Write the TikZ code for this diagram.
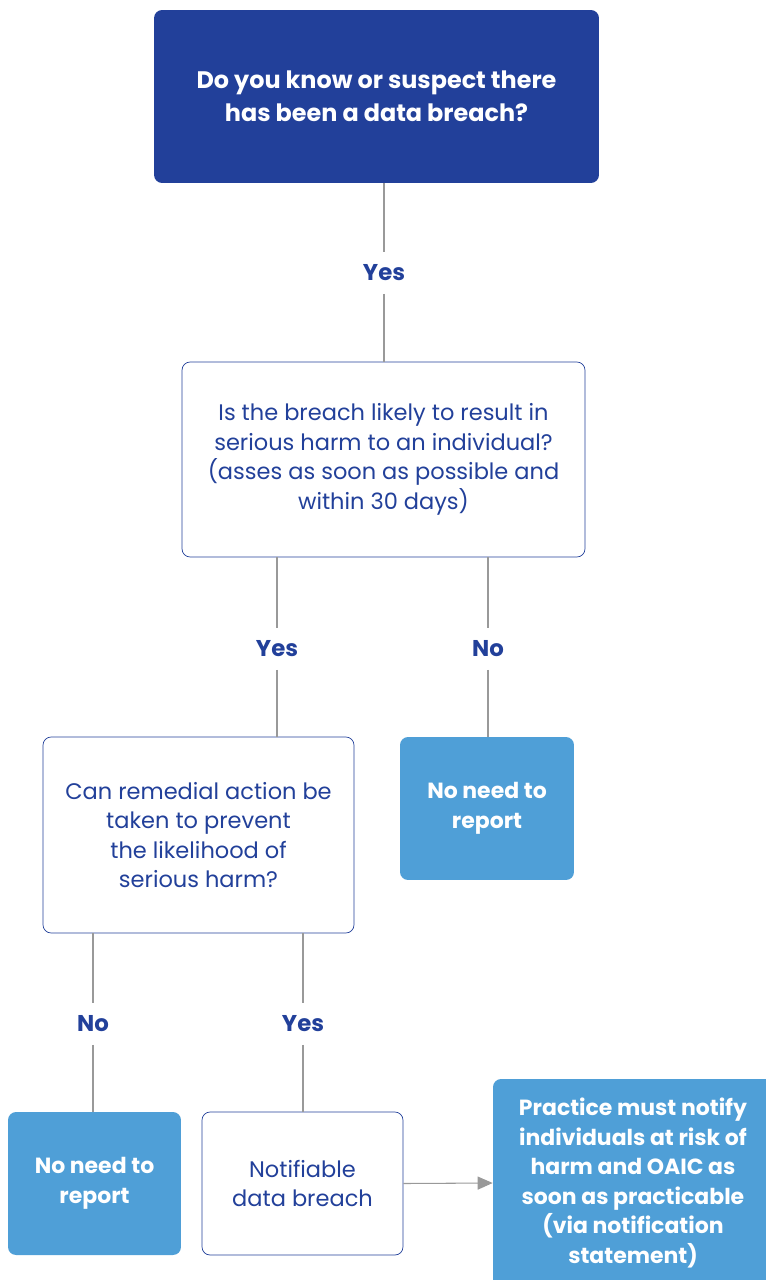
\documentclass[tikz,border=0pt]{standalone}
\usepackage{fontspec}
\setmainfont{Poppins}
\usetikzlibrary{arrows.meta}
\definecolor{darkblue}{HTML}{22409A}
\definecolor{lightblue}{HTML}{4F9FD7}
\definecolor{linegray}{HTML}{999999}
\tikzset{
  question/.style={draw=darkblue, fill=white, text=darkblue, rounded corners=1.6mm,
    align=center, font=\fontsize{12.8}{16.8}\selectfont},
  start/.style={fill=darkblue, text=white, rounded corners=1.6mm,
    align=center, font=\fontsize{13.6}{18.8}\selectfont\bfseries},
  outcome/.style={fill=lightblue, text=white, rounded corners=1.6mm,
    align=center, font=\fontsize{12.5}{16.8}\selectfont\bfseries},
  answer/.style={text=darkblue, inner sep=2.5mm, font=\fontsize{13}{16}\selectfont\bfseries},
  link/.style={linegray, line width=0.6pt}
}
\begin{document}
\begin{tikzpicture}[x=0.02cm, y=-0.02cm]
\useasboundingbox (0,0) rectangle (766,1280);
% Boxes
\node[start, minimum width=8.9cm, minimum height=3.46cm] (breach) at (376.5,96.5)
	{Do you know or suspect there\\ has been a data breach?};
\node[question, minimum width=8.06cm, minimum height=3.9cm] (harm) at (383.5,459.5)
	{Is the breach likely to result in\\ serious harm to an individual?\\ (asses as soon as possible and\\ within 30 days)};
\node[question, minimum width=6.22cm, minimum height=3.92cm] (remedy) at (198.5,835)
	{Can remedial action be\\ taken to prevent\\ the likelihood of\\ serious harm?};
\node[outcome, minimum width=3.48cm, minimum height=2.86cm] (noreport) at (487,808.5)
	{No need to\\ report};
\node[outcome, minimum width=3.46cm, minimum height=2.86cm] (noreport2) at (94.5,1183.5)
	{No need to\\ report};
\node[question, minimum width=4.02cm, minimum height=2.86cm] (notifiable) at (302.5,1183.5)
	{Notifiable\\ data breach};
\node[outcome, minimum width=5.6cm, minimum height=4.16cm] (notify) at (633,1183)
	{Practice must notify\\ individuals at risk of\\ harm and OAIC as\\ soon as practicable\\ (via notification\\ statement)};
% Answers
\node[answer] (yes1) at (384,273) {Yes};
\node[answer] (yes2) at (277,649) {Yes};
\node[answer] (no1) at (488,649) {No};
\node[answer] (no2) at (93,1024) {No};
\node[answer] (yes3) at (303,1024) {Yes};
% Connectors
\draw[link] (yes1 |- breach.south) -- (yes1) -- (yes1 |- harm.north);
\draw[link] (yes2 |- harm.south) -- (yes2) -- (yes2 |- remedy.north);
\draw[link] (no1 |- harm.south) -- (no1) -- (no1 |- noreport.north);
\draw[link] (no2 |- remedy.south) -- (no2) -- (no2 |- noreport2.north);
\draw[link] (yes3 |- remedy.south) -- (yes3) -- (yes3 |- notifiable.north);
\draw[link, -{Triangle[length=3mm, width=2.6mm]}] (notifiable.east) -- (notify.west);
\end{tikzpicture}
\end{document}
